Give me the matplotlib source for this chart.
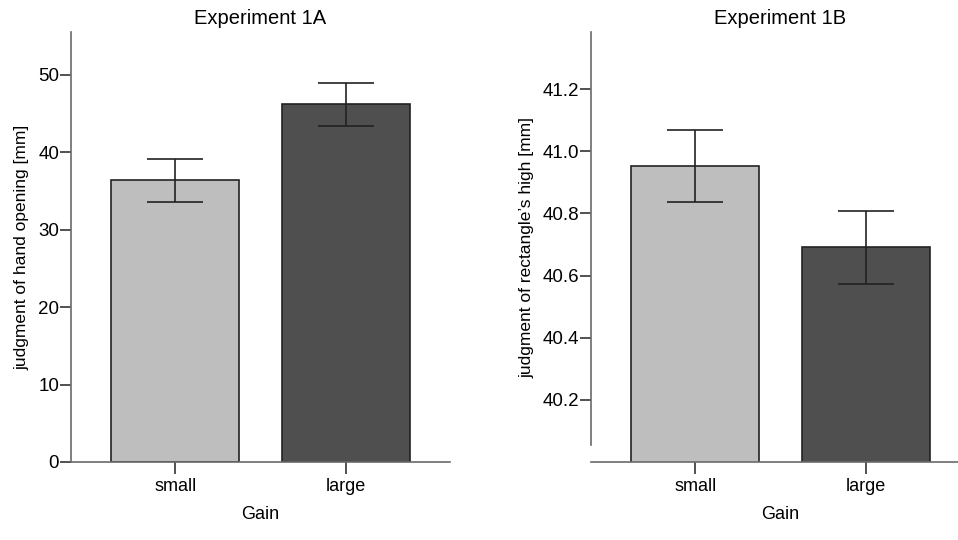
import matplotlib.pyplot as plt

# Gain conditions and mean judgments with error bar limits
gains = ["small", "large"]

hand_opening = [36.35, 46.15]
hand_err_low = [33.6, 43.4]
hand_err_high = [39.1, 48.95]

rect_high = [40.953, 40.692]
rect_err_low = [40.837, 40.574]
rect_err_high = [41.069, 40.809]

bar_colors = ["#bebebe", "#4f4f4f"]

plt.rcParams['font.family'] = ['Liberation Sans', 'DejaVu Sans']

fig = plt.figure(figsize=(9.58, 5.4), dpi=100)
ax1 = fig.add_axes([71 / 958, 1 - 462 / 540, 379 / 958, 430 / 540])
ax2 = fig.add_axes([591 / 958, 1 - 462 / 540, 379 / 958, 430 / 540])


def draw_panel(ax, means, lo, hi, title, ylabel):
    x = range(len(gains))
    ax.bar(x, means, width=0.75, color=bar_colors, edgecolor="#222222",
           linewidth=1.2, zorder=2)
    yerr = [[m - l for m, l in zip(means, lo)], [h - m for m, h in zip(means, hi)]]
    ax.errorbar(x, means, yerr=yerr, fmt="none", ecolor="#222222",
                elinewidth=1.2, capsize=20, capthick=1.2, zorder=3)
    ax.set_xticks(list(x))
    ax.set_xticklabels(gains)
    ax.set_xlim(-0.61, 1.61)
    ax.set_title(title, fontsize=14.5, pad=6)
    ax.set_xlabel("Gain", fontsize=13, labelpad=8)
    ax.set_ylabel(ylabel, fontsize=12.5, labelpad=6)
    for s in ["top", "right"]:
        ax.spines[s].set_visible(False)
    for s in ["left", "bottom"]:
        ax.spines[s].set_color("#6a6a6a")
        ax.spines[s].set_linewidth(1.2)
    ax.tick_params(axis="y", length=8, width=1.2, color="#333333", labelsize=13.5, pad=0.5)
    ax.tick_params(axis="x", length=8.5, width=1.2, color="#333333", labelsize=13, pad=3)


draw_panel(ax1, hand_opening, hand_err_low, hand_err_high,
           "Experiment 1A", "judgment of hand opening [mm]")
ax1.set_ylim(0, 55.5)
ax1.set_yticks([0, 10, 20, 30, 40, 50])

draw_panel(ax2, rect_high, rect_err_low, rect_err_high,
           "Experiment 1B", "judgment of rectangle\u2019s high [mm]")
ax2.set_ylim(40.0, 41.384)
ax2.set_yticks([40.2, 40.4, 40.6, 40.8, 41.0, 41.2])
ax2.set_yticklabels(["40.2", "40.4", "40.6", "40.8", "41.0", "41.2"])
ax2.spines["left"].set_bounds(40.056, 41.384)

fig.savefig("out.png", dpi=100)
